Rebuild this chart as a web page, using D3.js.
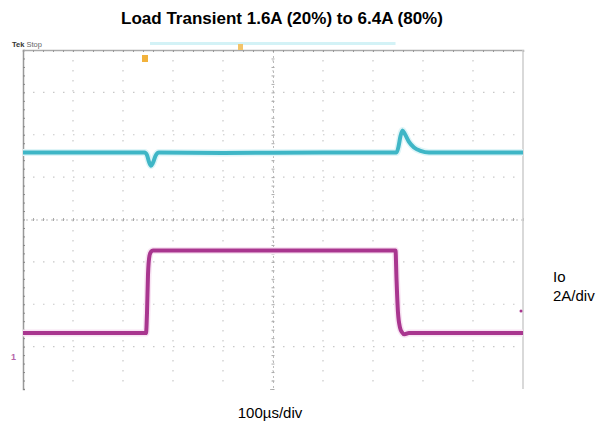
<!DOCTYPE html>
<html>
<head>
<meta charset="utf-8">
<script src="https://cdn.jsdelivr.net/npm/d3@7"></script>
<style>
  body { margin: 0; background: #fff; }
  text { font-family: "Liberation Sans", Arial, sans-serif; }
</style>
</head>
<body>
<script>
// time in microseconds, level in scope divisions
var cyanTime  = [0, 243, 248, 252, 256, 260, 265, 272, 400, 600, 747, 751, 755, 759, 764, 772, 782, 795, 812, 1000];
var cyanLevel = [1.58, 1.58, 1.52, 1.36, 1.27, 1.34, 1.50, 1.58, 1.57, 1.58, 1.58, 1.72, 1.97, 2.10, 2.01, 1.83, 1.70, 1.62, 1.58, 1.58];

var ioTime  = [0, 246, 248, 250, 253, 256, 260, 500, 745, 747, 750, 754, 758, 763, 772, 1000];
var ioLevel = [-2.68, -2.68, -2.2, -1.3, -0.85, -0.76, -0.73, -0.73, -0.73, -1.4, -2.2, -2.55, -2.66, -2.71, -2.68, -2.68];

var xTicks = d3.range(0, 1001, 100);
var yTicks = d3.range(-4, 4.01, 1);

var width = 599, height = 428;
var plot = {left: 23, right: 523, top: 50, bottom: 389};

var x = d3.scaleLinear().domain([0, 1000]).range([plot.left, plot.right]);
var y = d3.scaleLinear().domain([-4, 4]).range([plot.bottom, plot.top]);

var svg = d3.select("body").append("svg")
    .attr("width", width)
    .attr("height", height);

// title
svg.append("text")
    .attr("x", 282)
    .attr("y", 24)
    .attr("text-anchor", "middle")
    .style("font-size", "17px")
    .style("font-weight", "bold")
    .text("Load Transient 1.6A (20%) to 6.4A (80%)");

// scope header strip
svg.append("rect")
    .attr("x", x(254)).attr("y", 42)
    .attr("width", x(745) - x(254)).attr("height", 3)
    .attr("fill", "#d3f2f6");
svg.append("text")
    .attr("x", 12).attr("y", 47)
    .style("font-size", "7.5px")
    .attr("fill", "#666")
    .html("<tspan font-weight='bold' fill='#333'>Tek</tspan> Stop");

// dotted graticule
var grid = svg.append("g");
grid.selectAll("line.v")
    .data(xTicks.slice(1, -1))
  .enter().append("line")
    .attr("x1", function(d) { return x(d); })
    .attr("x2", function(d) { return x(d); })
    .attr("y1", plot.top).attr("y2", plot.bottom)
    .attr("stroke", "#c8c8c8")
    .attr("stroke-dasharray", "1.5,8.5")
    .attr("stroke-width", 1.2);
grid.selectAll("line.h")
    .data(yTicks.slice(1, -1))
  .enter().append("line")
    .attr("y1", function(d) { return y(d); })
    .attr("y2", function(d) { return y(d); })
    .attr("x1", plot.left).attr("x2", plot.right)
    .attr("stroke", "#c8c8c8")
    .attr("stroke-dasharray", "1.5,8.5")
    .attr("stroke-width", 1.2);

// center axes with minor ticks
svg.append("g")
    .attr("transform", "translate(0," + y(0) + ")")
    .call(d3.axisBottom(x).ticks(50).tickSize(3).tickFormat(""))
    .call(function(g) {
      g.select(".domain").attr("stroke", "#bbb").attr("stroke-dasharray", "2,3");
      g.selectAll(".tick line").attr("stroke", "#aaa").attr("transform", "translate(0,-1.5)");
    });
svg.append("g")
    .attr("transform", "translate(" + x(500) + ",0)")
    .call(d3.axisLeft(y).ticks(40).tickSize(3).tickFormat(""))
    .call(function(g) {
      g.select(".domain").attr("stroke", "#bbb").attr("stroke-dasharray", "2,3");
      g.selectAll(".tick line").attr("stroke", "#aaa").attr("transform", "translate(1.5,0)");
    });

// frame
svg.append("g")
    .attr("transform", "translate(" + plot.left + ",0)")
    .call(d3.axisRight(y).ticks(40).tickSize(2).tickFormat(""))
    .call(function(g) {
      g.select(".domain").attr("stroke", "#999").attr("stroke-width", 1.5);
      g.selectAll(".tick line").attr("stroke", "#888");
    });
svg.append("g")
    .attr("transform", "translate(0," + plot.top + ")")
    .call(d3.axisBottom(x).ticks(50).tickSize(2).tickFormat(""))
    .call(function(g) {
      g.select(".domain").attr("stroke", "#aaa").attr("stroke-width", 1.5);
      g.selectAll(".tick line").attr("stroke", "#999");
    });
svg.append("line")
    .attr("x1", plot.right).attr("x2", plot.right)
    .attr("y1", plot.top).attr("y2", plot.bottom)
    .attr("stroke", "#ccc").attr("stroke-width", 1.5);

// traces
var line = d3.line()
    .x(function(d) { return x(d[0]); })
    .y(function(d) { return y(d[1]); })
    .curve(d3.curveMonotoneX);

function trace(times, levels, halo, color) {
  var pts = d3.zip(times, levels);
  svg.append("path")
      .datum(pts)
      .attr("fill", "none")
      .attr("stroke", halo)
      .attr("stroke-width", 7)
      .attr("stroke-linejoin", "round")
      .attr("d", line);
  svg.append("path")
      .datum(pts)
      .attr("fill", "none")
      .attr("stroke", color)
      .attr("stroke-width", 4)
      .attr("stroke-linejoin", "round")
      .attr("d", line);
}
trace(cyanTime, cyanLevel, "#dff5f8", "#3fb6c6");
trace(ioTime, ioLevel, "#f8e4f3", "#a9368f");

// markers
svg.append("rect")
    .attr("x", x(244) - 3).attr("y", 55)
    .attr("width", 6).attr("height", 7)
    .attr("fill", "#f2b23c");
svg.append("rect")
    .attr("x", 238).attr("y", 44)
    .attr("width", 5).attr("height", 6)
    .attr("fill", "#f2c46a");
svg.append("text")
    .attr("x", 11).attr("y", 360)
    .style("font-size", "9px")
    .style("font-weight", "bold")
    .attr("fill", "#b565a8")
    .text("1");
svg.append("circle")
    .attr("cx", 521).attr("cy", 311).attr("r", 1.5)
    .attr("fill", "#a9368f");

// labels
svg.append("text")
    .attr("x", 553).attr("y", 282)
    .style("font-size", "15px")
    .text("Io");
svg.append("text")
    .attr("x", 553).attr("y", 301)
    .style("font-size", "15px")
    .text("2A/div");
svg.append("text")
    .attr("x", 270).attr("y", 418)
    .attr("text-anchor", "middle")
    .style("font-size", "15px")
    .text("100µs/div");
</script>
</body>
</html>
